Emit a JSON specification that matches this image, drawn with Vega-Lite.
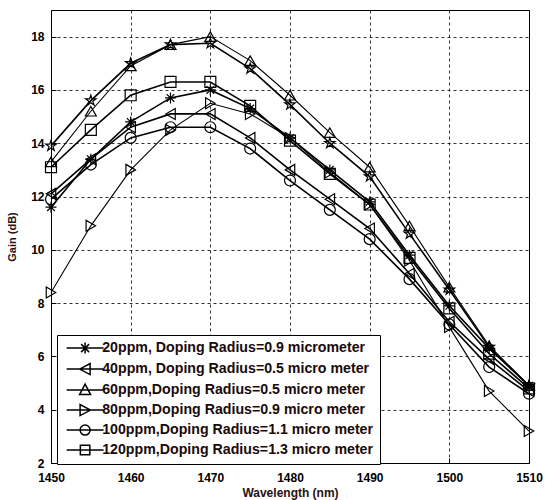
{
  "$schema": "https://vega.github.io/schema/vega-lite/v6.json",
  "width": 478,
  "height": 453,
  "autosize": {"type": "none"},
  "padding": {"left": 51, "top": 10, "right": 18, "bottom": 37},
  "background": "white",
  "config": {
    "view": {"stroke": "black", "strokeWidth": 1},
    "font": "Liberation Sans",
    "axis": {
      "labelFont": "Liberation Sans", "labelFontWeight": "bold", "labelFontSize": 12, "labelColor": "black",
      "titleFont": "Liberation Sans", "titleFontWeight": "bold", "titleColor": "#2a1010",
      "grid": true, "gridColor": "black", "gridDash": [3, 3], "gridWidth": 0.8, "gridOpacity": 1,
      "domain": false, "tickColor": "black", "tickSize": -5, "tickWidth": 1
    }
  },
  "data": {
    "values": [
      {"wl": 1450, "s1": 11.6, "s2": 12.1, "s3": 13.3, "s4": 8.4, "s5": 11.9, "s6": 13.1, "s7": 13.9},
      {"wl": 1455, "s1": 13.4, "s2": 13.4, "s3": 15.2, "s4": 10.9, "s5": 13.2, "s6": 14.5, "s7": 15.6},
      {"wl": 1460, "s1": 14.8, "s2": 14.6, "s3": 16.9, "s4": 13.0, "s5": 14.2, "s6": 15.8, "s7": 17.0},
      {"wl": 1465, "s1": 15.7, "s2": 15.1, "s3": 17.7, "s4": 14.5, "s5": 14.6, "s6": 16.3, "s7": 17.7},
      {"wl": 1470, "s1": 16.0, "s2": 15.1, "s3": 18.0, "s4": 15.5, "s5": 14.6, "s6": 16.3, "s7": 17.75},
      {"wl": 1475, "s1": 15.3, "s2": 14.2, "s3": 17.1, "s4": 15.1, "s5": 13.8, "s6": 15.4, "s7": 16.8},
      {"wl": 1480, "s1": 14.2, "s2": 13.0, "s3": 15.8, "s4": 14.2, "s5": 12.6, "s6": 14.1, "s7": 15.45},
      {"wl": 1485, "s1": 13.0, "s2": 11.9, "s3": 14.4, "s4": 12.9, "s5": 11.5, "s6": 12.85, "s7": 14.0},
      {"wl": 1490, "s1": 11.8, "s2": 10.8, "s3": 13.1, "s4": 11.7, "s5": 10.4, "s6": 11.7, "s7": 12.75},
      {"wl": 1495, "s1": 9.8, "s2": 9.1, "s3": 10.9, "s4": 9.6, "s5": 8.9, "s6": 9.7, "s7": 10.6},
      {"wl": 1500, "s1": 7.9, "s2": 7.3, "s3": 8.6, "s4": 7.1, "s5": 7.2, "s6": 7.8, "s7": 8.5},
      {"wl": 1505, "s1": 6.3, "s2": 5.9, "s3": 6.4, "s4": 4.7, "s5": 5.6, "s6": 6.1, "s7": 6.35},
      {"wl": 1510, "s1": 4.9, "s2": 4.7, "s3": 4.9, "s4": 3.2, "s5": 4.6, "s6": 4.8, "s7": 4.9}
    ]
  },
  "transform": [
    {"fold": ["s1", "s2", "s3", "s4", "s5", "s6", "s7"], "as": ["series", "gain"]}
  ],
  "encoding": {
    "x": {
      "field": "wl", "type": "quantitative",
      "scale": {"domain": [1450, 1510], "nice": false, "zero": false},
      "axis": {"values": [1450, 1460, 1470, 1480, 1490, 1500, 1510], "format": "d", "title": "Wavelength (nm)", "titleFontSize": 12, "labelPadding": 14, "titlePadding": 4, "labelFlush": false}
    },
    "y": {
      "field": "gain", "type": "quantitative",
      "scale": {"domain": [2, 19], "nice": false, "zero": false},
      "axis": {"values": [2, 4, 6, 8, 10, 12, 14, 16, 18], "title": "Gain (dB)", "titleFontSize": 11, "labelPadding": 12, "titlePadding": 13}
    }
  },
  "resolve": {"scale": {"shape": "independent"}, "legend": {"shape": "independent"}},
  "layer": [
    {
      "mark": {"type": "line", "color": "black"},
      "encoding": {
        "detail": {"field": "series", "type": "nominal"},
        "strokeWidth": {
          "condition": {"test": "datum.series == 's3' || datum.series == 's4'", "value": 1.1},
          "value": 1.6
        }
      }
    },
    {
      "mark": {"type": "point", "filled": false, "color": "black", "strokeWidth": 1.2, "size": 120, "opacity": 1},
      "encoding": {
        "shape": {
          "field": "series", "type": "nominal",
          "scale": {
            "domain": ["s1", "s2", "s3", "s4", "s5", "s6", "s7"],
            "range": [
              "M-1,0H1M0,-1V1M-0.7,-0.7L0.7,0.7M-0.7,0.7L0.7,-0.7",
              "triangle-left",
              "triangle-up",
              "triangle-right",
              "circle",
              "square",
              "M0,-1L0.225,-0.309L0.951,-0.309L0.363,0.118L0.588,0.809L0,0.382L-0.588,0.809L-0.363,0.118L-0.951,-0.309L-0.225,-0.309Z"
            ]
          },
          "legend": null
        }
      }
    },
    {
      "transform": [{"filter": "datum.gain > 100"}],
      "mark": {"type": "point", "filled": false, "color": "black", "strokeWidth": 1.5, "size": 100},
      "encoding": {
        "shape": {
          "field": "series", "type": "nominal",
          "scale": {
            "domain": ["s1", "s2", "s3", "s4", "s5", "s6"],
            "range": [
              "M-3.7,0H3.7M0,-1.1V1.1M-0.8,-0.8L0.8,0.8M-0.8,0.8L0.8,-0.8",
              "M-3.7,0H3.7M-1.1,0L1,-1.1L1,1.1Z",
              "M-3.7,0H3.7M0,-1.2L1.1,0.9L-1.1,0.9Z",
              "M-3.7,0H3.7M1.1,0L-1,-1.1L-1,1.1Z",
              "M-3.7,0H3.7M1,0A1,1 0 1,1 -1,0A1,1 0 1,1 1,0Z",
              "M-3.7,0H3.7M-0.95,-0.95H0.95V0.95H-0.95Z"
            ]
          },
          "legend": {
            "title": null,
            "orient": "none",
            "legendX": 6,
            "legendY": 325,
            "padding": 6,
            "strokeColor": "black",
            "fillColor": "white",
            "labelFont": "Liberation Sans",
            "labelFontWeight": "bold",
            "labelFontSize": 14.2,
            "labelColor": "#1a0a0a",
            "labelLimit": 400,
            "symbolSize": 100,
            "symbolStrokeColor": "black",
            "symbolStrokeWidth": 1.5,
            "symbolFillColor": "transparent",
            "symbolOpacity": 1,
            "symbolOffset": 15,
            "rowPadding": 3,
            "labelOffset": 10,
            "labelExpr": "datum.value == 's1' ? '20ppm, Doping Radius=0.9 micrometer' : datum.value == 's2' ? '40ppm, Doping Radius=0.5 micro meter' : datum.value == 's3' ? '60ppm,Doping Radius=0.5 micro meter' : datum.value == 's4' ? '80ppm,Doping Radius=0.9 micro meter' : datum.value == 's5' ? '100ppm,Doping Radius=1.1 micro meter' : '120ppm,Doping Radius=1.3 micro meter'"
          }
        }
      }
    }
  ]
}
